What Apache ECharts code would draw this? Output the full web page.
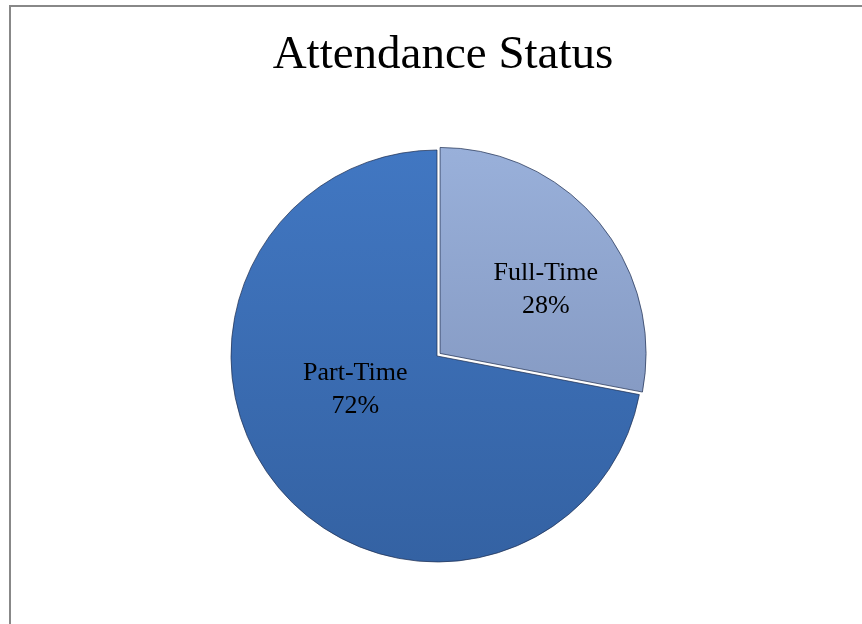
<!DOCTYPE html>
<html>
<head>
<meta charset="utf-8">
<script src="https://cdn.jsdelivr.net/npm/echarts@6/dist/echarts.min.js"></script>
<style>html,body{margin:0;padding:0;background:#fff;}#c{width:862px;height:624px;}</style>
</head>
<body>
<div id="c"></div>
<script>
const titleText = 'Attendance Status';
const categories = ['Full-Time', 'Part-Time'];
const values = [28, 72];

const fills = [
  new echarts.graphic.LinearGradient(0, 0, 0, 1, [
    {offset: 0, color: '#99B0DA'}, {offset: 1, color: '#869BC4'}
  ]),
  new echarts.graphic.LinearGradient(0, 0, 0, 1, [
    {offset: 0, color: '#4177C2'}, {offset: 1, color: '#3462A3'}
  ])
];
const labelShift = [[24, 4], [0, -34]];

const chart = echarts.init(document.getElementById('c'));
chart.setOption({
  backgroundColor: '#fff',
  animation: false,
  title: {
    text: titleText, left: 438, top: 27, textAlign: 'center',
    textStyle: {fontFamily: 'Liberation Serif', fontSize: 47, fontWeight: 'normal', color: '#000'}
  },
  graphic: [{
    type: 'rect', shape: {x: 10, y: 6, width: 900, height: 700},
    style: {fill: 'none', stroke: '#888', lineWidth: 2}, silent: true
  }],
  series: [{
    type: 'pie',
    center: [437, 356],
    radius: 206,
    startAngle: 90,
    clockwise: true,
    selectedMode: 'single',
    selectedOffset: 4,
    data: categories.map((c, i) => ({
      name: c, value: values[i], selected: i === 0,
      itemStyle: {color: fills[i]}
    })),
    itemStyle: {borderColor: 'rgba(30,45,80,0.7)', borderWidth: 1},
    label: {
      show: true, position: 'inside',
      formatter: p => p.name + '\n' + Math.round(p.percent) + '%',
      fontFamily: 'Liberation Serif', fontSize: 26, lineHeight: 33, color: '#000', align: 'center'
    },
    labelLayout: p => ({dx: labelShift[p.dataIndex][0], dy: labelShift[p.dataIndex][1]}),
    labelLine: {show: false},
    emphasis: {disabled: true}
  }]
});
</script>
</body>
</html>
